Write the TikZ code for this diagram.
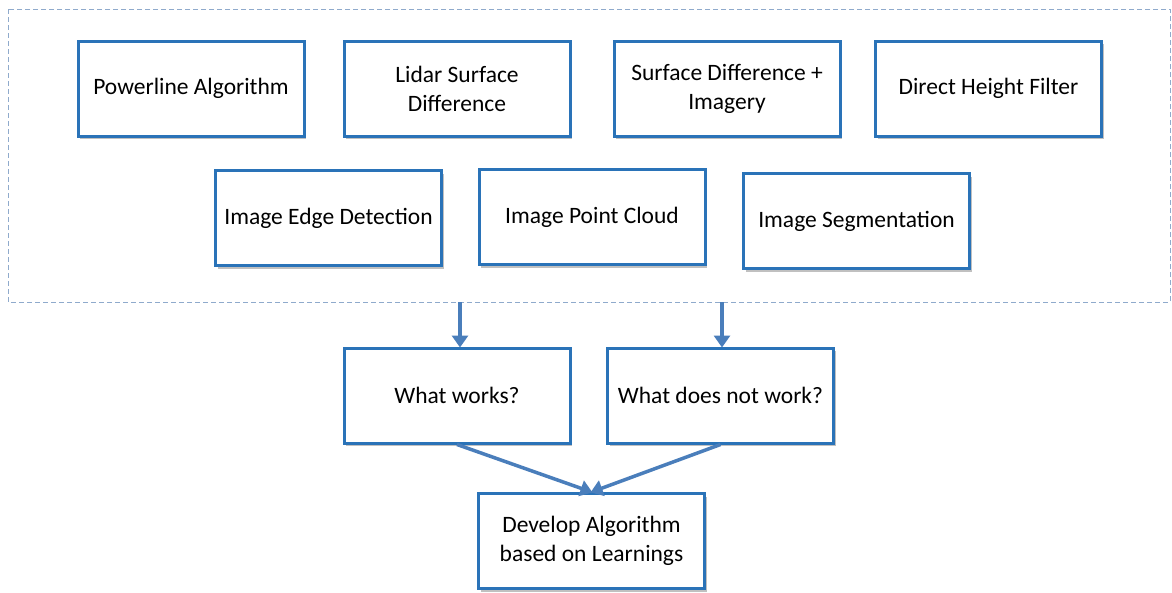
\documentclass[tikz,border=0pt]{standalone}
\usepackage{fontspec}
\setmainfont{Carlito}
\usetikzlibrary{shadows,arrows.meta}
\definecolor{boxblue}{HTML}{2A73B8}
\definecolor{arrowblue}{HTML}{4A7EBB}
\definecolor{dashblue}{HTML}{8FAACC}
\tikzset{
  stepbox/.style={draw=boxblue, line width=3pt, fill=white, align=center,
    minimum width=226pt, minimum height=95pt, inner sep=3pt,
    font=\fontsize{23.5}{29}\selectfont,
    drop shadow={opacity=0.35, shadow xshift=2pt, shadow yshift=-3pt, fill=black!70}},
  flow/.style={draw=arrowblue, line width=3.5pt,
    -{Triangle[length=12pt,width=16pt]}, shorten >=-1pt},
  group/.style={draw=dashblue, line width=1pt, dash pattern=on 5pt off 3pt}
}
\begin{document}
\begin{tikzpicture}[x=1pt,y=-1pt]
  \useasboundingbox (0,0) rectangle (1172,592);
  \fill[white] (0,0) rectangle (1172,592);

  % grouping frame around the candidate methods
  \draw[group] (8,9) rectangle (1170,302);

  % candidate methods, first row
  \node[stepbox] (pl)  at (191,88.5)  {Powerline Algorithm};
  \node[stepbox] (lsd) at (457,88.5)  {Lidar Surface\\Difference};
  \node[stepbox] (sdi) at (727,88.5)  {Surface Difference +\\Imagery};
  \node[stepbox] (dhf) at (988.5,88.5) {Direct Height Filter};

  % candidate methods, second row
  \node[stepbox] (ied) at (328.5,218) {Image Edge Detection};
  \node[stepbox] (ipc) at (592,217)   {Image Point Cloud};
  \node[stepbox] (iseg) at (856.5,221) {Image Segmentation};

  % evaluation
  \coordinate (g1) at (460,302);
  \coordinate (g2) at (722,302);
  \node[stepbox] (ok)  at (457,395.5) {What works?};
  \node[stepbox] (nok) at (720.5,395.5) {What does not work?};
  \node[stepbox] (dev) at (591.5,541) {Develop Algorithm\\based on Learnings};

  \draw[flow] (g1) -- (g1 |- ok.north);
  \draw[flow] (g2) -- (g2 |- ok.north);
  \draw[flow] (ok.south) -- (dev.north);
  \draw[flow] (nok.south) -- (dev.north);
\end{tikzpicture}
\end{document}
